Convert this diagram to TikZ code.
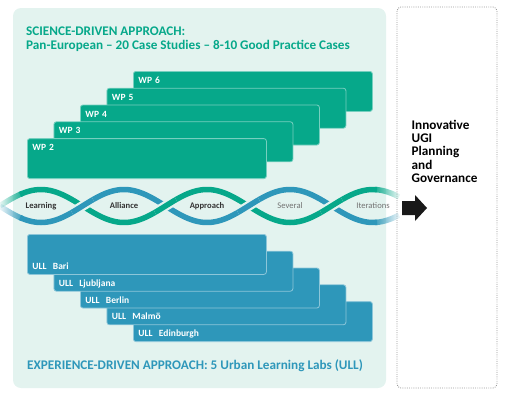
\documentclass[tikz,border=0pt]{standalone}
\usepackage{fontspec}
\setmainfont{Carlito}
\usepackage{xcolor}
\usepackage{tikz}
\usetikzlibrary{fadings}

\definecolor{bgteal}{HTML}{E3F3EF}
\definecolor{wpgreen}{HTML}{06A88A}
\definecolor{ullblue}{HTML}{2E97BA}
\definecolor{labelgray}{HTML}{333333}

\tikzfading[name=fadein, left color=transparent!100, right color=transparent!0]
\tikzfading[name=fadeout, left color=transparent!0, right color=transparent!100]

\begin{document}
\begin{tikzpicture}[x=1pt, y=-1pt,
declare function={gy(\x)=206-16.5*cos((\x-41)*2.168675); by(\x)=206+16.5*cos((\x-41)*2.168675);},
wpbox/.style={draw=wpgreen!55!white, line width=0.8pt, fill=wpgreen, rounded corners=2.5pt, anchor=north west, text width=229pt, inner xsep=5pt, inner ysep=3pt, text height=9pt, text depth=25pt, align=left, text=white, font=\fontsize{9.5}{10}\selectfont\bfseries},
ullbox/.style={wpbox, draw=ullblue!55!white, fill=ullblue, text height=32pt, text depth=2pt},
heading/.style={inner sep=0pt, align=left, font=\fontsize{13.2}{14}\selectfont\bfseries},
strand/.style={line width=5.5pt},
twist/.style={inner sep=0pt, anchor=base, text=labelgray, font=\fontsize{8.6}{10}\selectfont\bfseries},
faint/.style={twist, text=black!55, font=\fontsize{8.6}{10}\selectfont}
]
\useasboundingbox (0,0) rectangle (508,394);

% panels
\fill[bgteal, rounded corners=8pt] (13,8) rectangle (386,388);
\draw[black!40, line width=0.9pt, dash pattern=on 0.9pt off 1.3pt, rounded corners=4pt] (397,7) rectangle (497,388);

\node[heading, text=wpgreen, anchor=base west] (science) at (26,49) {SCIENCE-DRIVEN APPROACH:\\Pan-European – 20 Case Studies – 8-10 Good Practice Cases};

% work packages
\node[wpbox] (wp6) at (133,71) {WP 6};
\node[wpbox] (wp5) at (106.5,87.8) {WP 5};
\node[wpbox] (wp4) at (80,104.6) {WP 4};
\node[wpbox] (wp3) at (53.5,121.4) {WP 3};
\node[wpbox] (wp2) at (27,138.2) {WP 2};

% helix
\draw[strand, wpgreen] plot[domain=20:377, samples=120] (\x,{gy(\x)});
\draw[strand, ullblue] plot[domain=20:377, samples=120] (\x,{by(\x)});
\draw[strand, wpgreen, path fading=fadein] plot[domain=0:22, samples=12] (\x,{gy(\x)});
\draw[strand, ullblue, path fading=fadein] plot[domain=0:22, samples=12] (\x,{by(\x)});
\draw[strand, wpgreen, path fading=fadeout] plot[domain=375:399, samples=12] (\x,{gy(\x)});
\draw[strand, ullblue, path fading=fadeout] plot[domain=375:399, samples=12] (\x,{by(\x)});
\draw[strand, ullblue, preaction={draw, bgteal, line width=10pt}] plot[domain=72:93, samples=12] (\x,{by(\x)});
\draw[strand, wpgreen, preaction={draw, bgteal, line width=10pt}] plot[domain=155:176, samples=12] (\x,{gy(\x)});
\draw[strand, ullblue, preaction={draw, bgteal, line width=10pt}] plot[domain=238:259, samples=12] (\x,{by(\x)});
\draw[strand, wpgreen, preaction={draw, bgteal, line width=10pt}] plot[domain=321:342, samples=12] (\x,{gy(\x)});

\node[twist] (learning) at (41,208) {Learning};
\node[twist] (alliance) at (124,208) {Alliance};
\node[twist] (approach) at (207,208) {Approach};
\node[faint] (several) at (290,208) {Several};
\node[faint] (iterations) at (373,208) {Iterations};

% urban learning labs
\node[ullbox] (edinburgh) at (133,301.2) {ULL\ \ Edinburgh};
\node[ullbox] (malmo) at (106.5,284.4) {ULL\ \ Malmö};
\node[ullbox] (berlin) at (80,267.6) {ULL\ \ Berlin};
\node[ullbox] (ljubljana) at (53.5,250.8) {ULL\ \ Ljubljana};
\node[ullbox] (bari) at (27,234) {ULL\ \ Bari};

\node[heading, text=ullblue, anchor=base west] (experience) at (27,369) {EXPERIENCE-DRIVEN APPROACH: 5 Urban Learning Labs (ULL)};

% outcome
\fill[black!90] (402,201) -- (415,201) -- (415,195) -- (427,208) -- (415,221) -- (415,215) -- (402,215) -- cycle;
\node[heading, font=\fontsize{13.2}{13.4}\selectfont\bfseries, anchor=base west] (outcome) at (411.5,182.7) {Innovative\\UGI\\Planning\\and\\Governance};
\end{tikzpicture}
\end{document}
